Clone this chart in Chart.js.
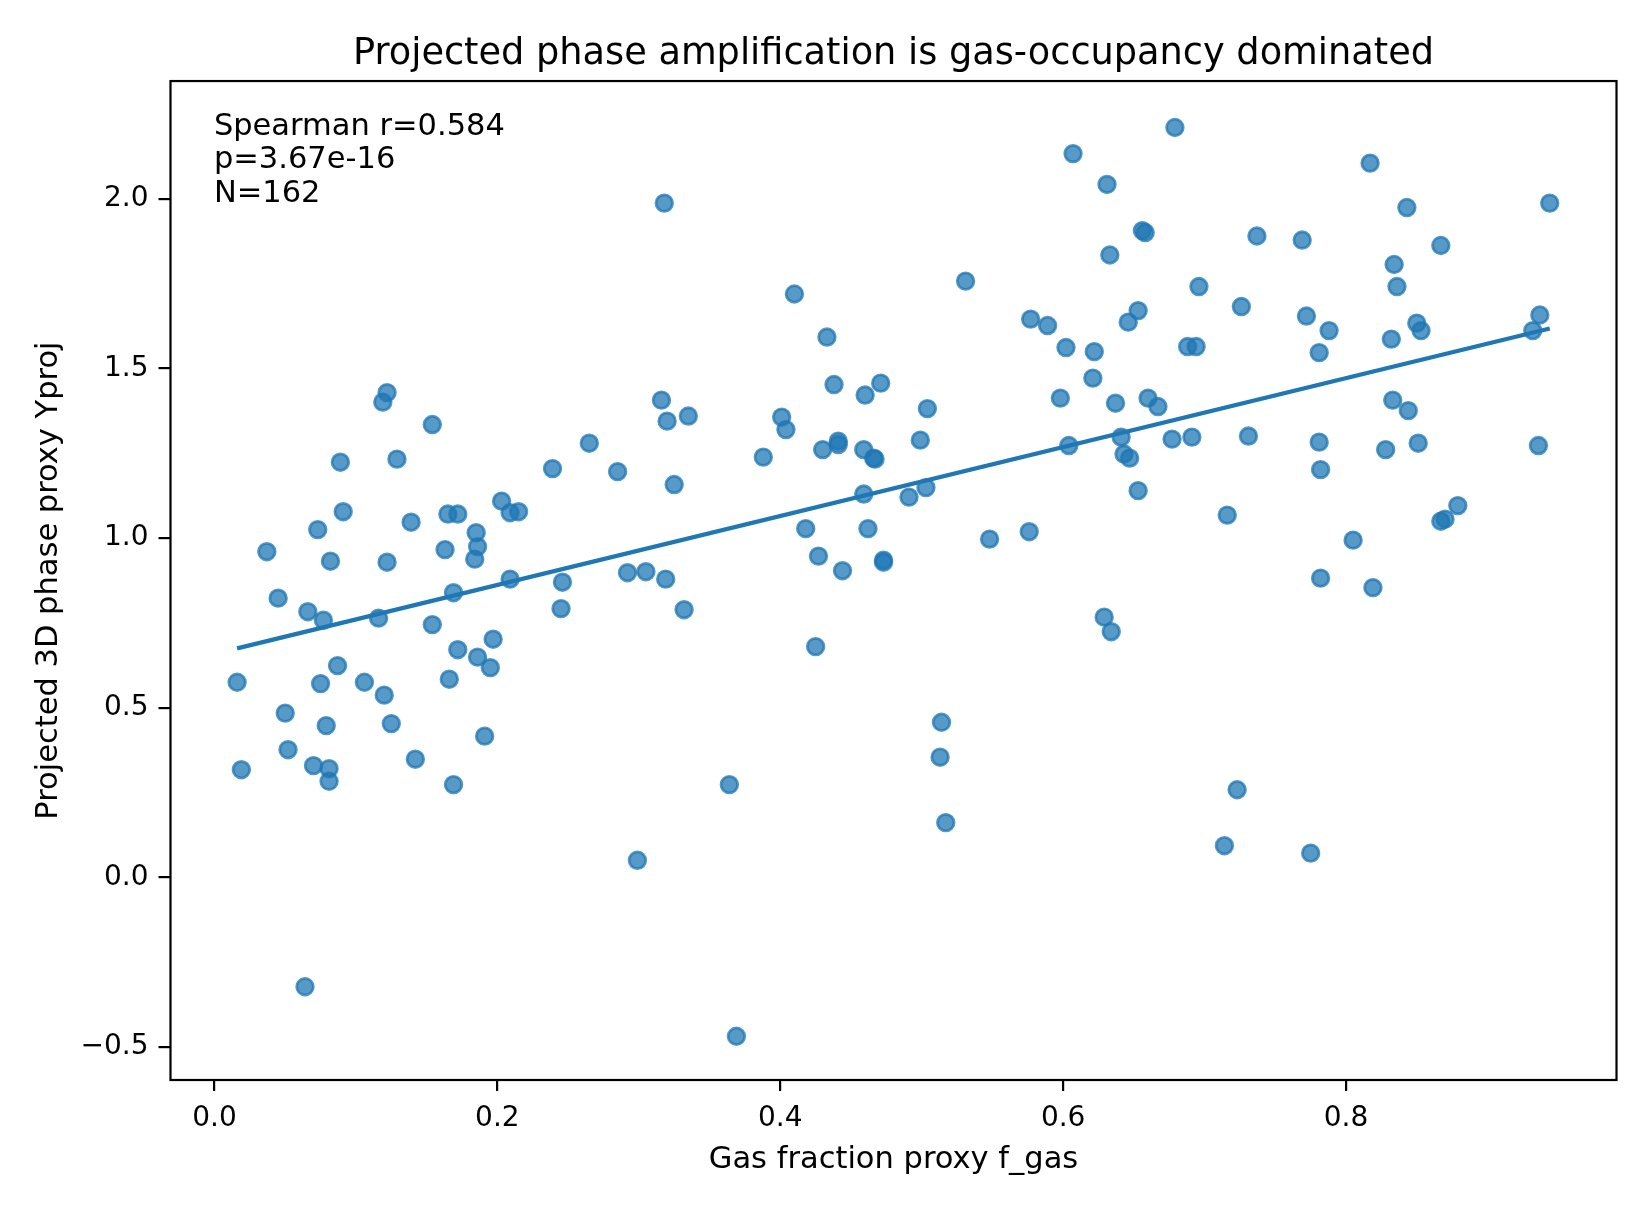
<!DOCTYPE html>
<html>
<head>
<meta charset="utf-8">
<title>Projected phase amplification</title>
<script src="https://cdn.jsdelivr.net/npm/chart.js@4.4.1/dist/chart.umd.min.js"></script>
<style>
  html, body { margin: 0; padding: 0; background: #fff; }
  #wrap { width: 1650px; height: 1210px; }
</style>
</head>
<body>
<div id="wrap"><canvas id="scatterChart" width="1650" height="1210"></canvas></div>
<script>
// gas fraction proxy (x) for each object
const fGas = [
  0.016, 0.019, 0.037, 0.045, 0.050, 0.052, 0.064, 0.066, 0.070, 0.073,
  0.075, 0.077, 0.079, 0.081, 0.081, 0.082, 0.087, 0.089, 0.091, 0.106,
  0.116, 0.119, 0.120, 0.122, 0.122, 0.125, 0.129, 0.139, 0.142, 0.154,
  0.154, 0.163, 0.165, 0.166, 0.169, 0.169, 0.172, 0.172, 0.184, 0.185,
  0.186, 0.186, 0.191, 0.195, 0.197, 0.203, 0.209, 0.209, 0.215,
  0.239, 0.245, 0.246, 0.265, 0.285, 0.292, 0.299, 0.305, 0.316, 0.318,
  0.319, 0.320, 0.325, 0.332, 0.335, 0.364, 0.369, 0.388, 0.401, 0.404,
  0.410, 0.418, 0.425, 0.427, 0.430, 0.433, 0.438, 0.441, 0.441, 0.444,
  0.459, 0.459, 0.460, 0.462, 0.466, 0.467, 0.471, 0.473, 0.473, 0.491,
  0.499, 0.503, 0.504, 0.513, 0.514, 0.517, 0.531, 0.548,
  0.576, 0.577, 0.589, 0.598, 0.602, 0.604, 0.607, 0.621, 0.622, 0.629,
  0.631, 0.633, 0.634, 0.637, 0.641, 0.643, 0.646, 0.647, 0.653, 0.653,
  0.656, 0.658, 0.660, 0.667, 0.677, 0.679, 0.688, 0.691, 0.694, 0.696,
  0.714, 0.716, 0.723, 0.726, 0.731, 0.737, 0.769, 0.772, 0.775, 0.781,
  0.781, 0.782, 0.782, 0.788, 0.805, 0.817, 0.819, 0.828, 0.832, 0.833,
  0.834, 0.836, 0.843, 0.844, 0.850, 0.851, 0.853, 0.867, 0.867, 0.870,
  0.879, 0.932, 0.936, 0.937, 0.944
];

// projected 3D phase proxy (y), same order
const yProj = [
  0.575, 0.317, 0.960, 0.823, 0.484, 0.376, -0.323, 0.783, 0.329, 1.025,
  0.571, 0.758, 0.447, 0.320, 0.283, 0.932, 0.624, 1.224, 1.078, 0.575,
  0.764, 1.401, 0.537, 1.429, 0.929, 0.453, 1.233, 1.047, 0.348, 1.335,
  0.745, 0.966, 1.071, 0.584, 0.839, 0.273, 1.071, 0.671, 0.938, 1.016,
  0.649, 0.975, 0.416, 0.618, 0.702, 1.109, 1.075, 0.879, 1.078,
  1.205, 0.792, 0.870, 1.280, 1.196, 0.898, 0.050, 0.901, 1.407, 1.988,
  0.879, 1.345, 1.158, 0.789, 1.360, 0.273, -0.469, 1.239, 1.357, 1.320,
  1.720, 1.028, 0.680, 0.947, 1.261, 1.593, 1.453, 1.276, 1.286, 0.904,
  1.261, 1.130, 1.422, 1.028, 1.236, 1.233, 1.457, 0.935, 0.929, 1.121,
  1.289, 1.149, 1.382, 0.354, 0.457, 0.161, 1.758, 0.997,
  1.019, 1.646, 1.627, 1.413, 1.562, 1.273, 2.134, 1.472, 1.550, 0.767,
  2.043, 1.835, 0.724, 1.398, 1.298, 1.248, 1.637, 1.236, 1.671, 1.140,
  1.907, 1.901, 1.413, 1.388, 1.292, 2.211, 1.565, 1.298, 1.565, 1.742,
  0.093, 1.068, 0.258, 1.683, 1.301, 1.891, 1.879, 1.655, 0.071, 1.547,
  1.283, 1.202, 0.882, 1.612, 0.994, 2.106, 0.854, 1.261, 1.587, 1.407,
  1.807, 1.742, 1.975, 1.376, 1.634, 1.280, 1.612, 1.863, 1.050, 1.056,
  1.096, 1.612, 1.273, 1.658, 1.988
];

// fitted trend line, end points
const fitX = [0.016, 0.944];
const fitY = [0.675, 1.618];

const xTicks = [0.0, 0.2, 0.4, 0.6, 0.8];
const yTicks = [-0.5, 0.0, 0.5, 1.0, 1.5, 2.0];
const statsLines = ["Spearman r=0.584", "p=3.67e-16", "N=162"];

const BLUE = "#1f77b4";
const BLUE_A = "rgba(31, 119, 180, 0.75)";

Chart.defaults.font.family = "'DejaVu Sans', sans-serif";
Chart.defaults.color = "#000";

// axes frame + stats text, like the matplotlib box
const framePlugin = {
  id: "frame",
  afterDraw(chart) {
    const { ctx, chartArea: a } = chart;
    ctx.save();
    ctx.strokeStyle = "#000";
    ctx.lineWidth = 2.2;
    ctx.strokeRect(a.left, a.top, a.right - a.left, a.bottom - a.top);

    ctx.font = "30.5px 'DejaVu Sans'";
    ctx.fillStyle = "#000";
    ctx.textAlign = "left";
    ctx.textBaseline = "alphabetic";
    const x0 = a.left + 0.03 * (a.right - a.left);
    statsLines.forEach((line, i) => {
      ctx.fillText(line, x0, 135 + i * 33.4);
    });
    ctx.restore();
  },
};

const points = fGas.map((x, i) => ({ x: x, y: yProj[i] }));
const fitLine = fitX.map((x, i) => ({ x: x, y: fitY[i] }));

new Chart(document.getElementById("scatterChart"), {
  type: "scatter",
  data: {
    datasets: [
      {
        type: "line",
        data: fitLine,
        borderColor: BLUE,
        borderWidth: 4.2,
        pointRadius: 0,
        fill: false,
        order: 0,
      },
      {
        data: points,
        backgroundColor: BLUE_A,
        borderColor: BLUE_A,
        borderWidth: 2.8,
        pointRadius: 8.3,
        pointHoverRadius: 8.3,
        order: 1,
      },
    ],
  },
  options: {
    responsive: false,
    animation: false,
    devicePixelRatio: 1,
    layout: { padding: { left: 0, right: 33.5, top: 0, bottom: 0 } },
    plugins: {
      legend: { display: false },
      tooltip: { enabled: false },
      title: {
        display: true,
        fullSize: false,
        text: "Projected phase amplification is gas-occupancy dominated",
        font: { size: 36.7, weight: "normal" },
        color: "#000",
        padding: { top: 32.3, bottom: 4.7 },
      },
    },
    scales: {
      x: {
        type: "linear",
        min: -0.0311,
        max: 0.9912,
        afterBuildTicks: (scale) => {
          scale.ticks = xTicks.map((v) => ({ value: v }));
        },
        afterFit: (scale) => {
          scale.height = 130;
        },
        ticks: {
          font: { size: 28 },
          padding: 11,
          maxRotation: 0,
          callback: (v) => v.toFixed(1),
        },
        grid: {
          drawOnChartArea: false,
          drawTicks: true,
          tickLength: 11,
          color: "#000",
          lineWidth: 2.2,
        },
        border: { display: false },
        title: {
          display: true,
          text: "Gas fraction proxy f_gas",
          font: { size: 30.5 },
          padding: { top: 0, bottom: 31.6 },
        },
      },
      y: {
        type: "linear",
        min: -0.598,
        max: 2.348,
        afterBuildTicks: (scale) => {
          scale.ticks = yTicks.map((v) => ({ value: v }));
        },
        afterFit: (scale) => {
          scale.width = 170.5;
        },
        ticks: {
          font: { size: 28 },
          padding: 10,
          callback: (v) => (v < 0 ? "\u2212" + Math.abs(v).toFixed(1) : v.toFixed(1)),
        },
        grid: {
          drawOnChartArea: false,
          drawTicks: true,
          tickLength: 12,
          color: "#000",
          lineWidth: 2.2,
        },
        border: { display: false },
        title: {
          display: true,
          text: "Projected 3D phase proxy Yproj",
          font: { size: 30.5 },
          padding: { top: 30.7, bottom: 0 },
        },
      },
    },
  },
  plugins: [framePlugin],
});
</script>
</body>
</html>
